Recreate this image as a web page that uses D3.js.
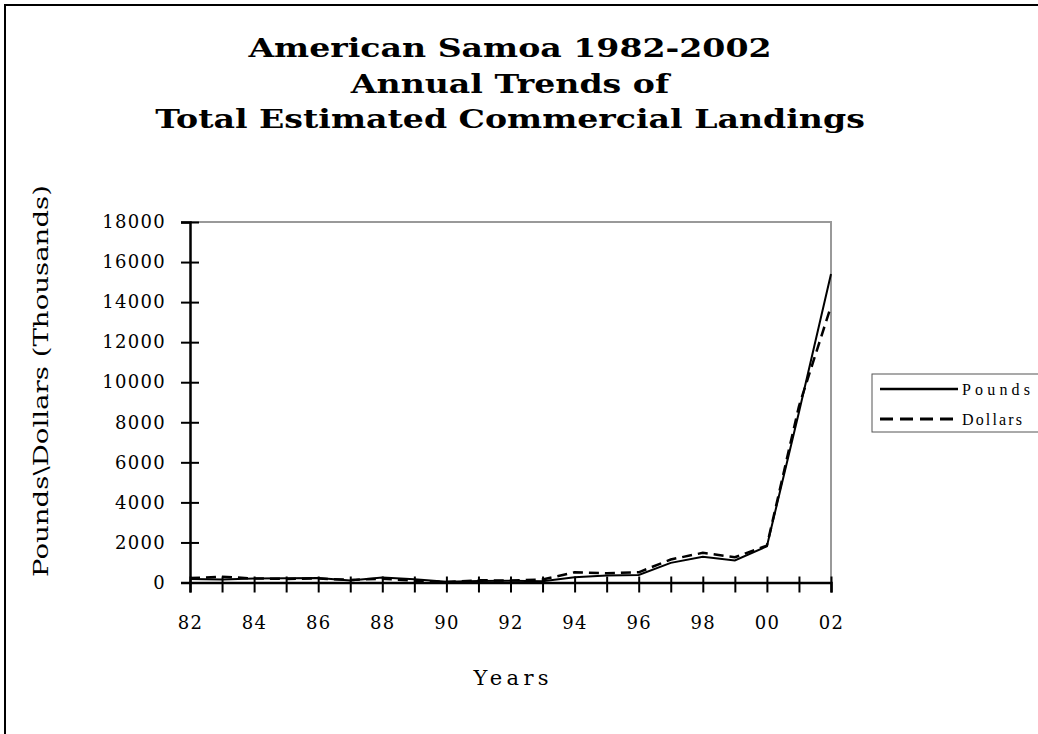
<!DOCTYPE html>
<html>
<head>
<meta charset="utf-8">
<script src="https://cdn.jsdelivr.net/npm/d3@7"></script>
<style>
	body { margin: 0; background: #fff; }
	svg { display: block; }
</style>
</head>
<body>
<div id="main_node"></div>
<script>
var years = [1982, 1983, 1984, 1985, 1986, 1987, 1988, 1989, 1990, 1991, 1992,
	1993, 1994, 1995, 1996, 1997, 1998, 1999, 2000, 2001, 2002];
// thousands of pounds
var pounds = [180, 150, 200, 210, 230, 100, 250, 160, 40, 80, 90,
	60, 260, 350, 380, 980, 1280, 1100, 1810, 8500, 15400];
// thousands of dollars
var dollars = [220, 290, 200, 180, 200, 130, 190, 90, 30, 110, 100,
	150, 510, 460, 510, 1150, 1480, 1260, 1840, 8800, 13800];
var yTicks = [0, 2000, 4000, 6000, 8000, 10000, 12000, 14000, 16000, 18000];
var titleLines = ["American Samoa 1982-2002", "Annual Trends of", "Total Estimated Commercial Landings"];
var seriesNames = ["Pounds", "Dollars"];

var width = 1038,
	height = 734;
var serif = "'DejaVu Serif', serif";

var svg = d3.select("#main_node")
	.append("svg")
	.attr("width", width)
	.attr("height", height);

// outer frame (right and bottom edges run off the page)
svg.append("rect")
	.attr("x", 5)
	.attr("y", 5)
	.attr("width", 1060)
	.attr("height", 760)
	.attr("fill", "none")
	.attr("stroke", "#000")
	.attr("stroke-width", 2);

// title - the original face is wider than DejaVu, so stretch every line by the same ratio
var titleStretch = 1.275;
svg.append("g")
	.selectAll("text")
	.data(titleLines)
	.enter()
	.append("text")
	.attr("x", 510)
	.attr("y", function (d, i) {
		return 57 + i * 35.5;
	})
	.attr("text-anchor", "middle")
	.style("font-family", serif)
	.style("font-weight", "bold")
	.style("font-size", "26px")
	.text(function (d) {
		return d;
	})
	.each(function () {
		var t = d3.select(this);
		t.attr("textLength", this.getComputedTextLength() * titleStretch)
			.attr("lengthAdjust", "spacingAndGlyphs");
	});

var x = d3.scaleLinear().domain([1982, 2002]).range([190, 831]);
var y = d3.scaleLinear().domain([0, 18000]).range([582.5, 222]);

// plot area border (top and right)
svg.append("path")
	.attr("d", "M" + x(1982) + "," + y(18000) + "H" + x(2002) + "V" + y(0))
	.attr("fill", "none")
	.attr("stroke", "#999")
	.attr("stroke-width", 2);

// y axis
var yAxis = svg.append("g")
	.attr("transform", "translate(" + x(1982) + ",0)")
	.call(d3.axisLeft(y).tickValues(yTicks).tickSize(9).tickPadding(15).tickFormat(d3.format("d")));
yAxis.select(".domain").attr("stroke-width", 2.5);
yAxis.selectAll(".tick line").attr("x1", 9).attr("stroke-width", 2);
yAxis.selectAll(".tick text")
	.style("font-family", serif)
	.style("font-size", "18px")
	.style("letter-spacing", "1.3px")
	.attr("fill", "#000");

// x axis, a tick every year and a label every other year
var xAxis = svg.append("g")
	.attr("transform", "translate(0," + y(0) + ")")
	.call(d3.axisBottom(x).tickValues(years).tickSize(10).tickPadding(24)
		.tickFormat(function (d) {
			return (d - 1982) % 2 === 0 ? d3.format("02d")(d % 100) : "";
		}));
xAxis.select(".domain").attr("stroke-width", 2.5);
xAxis.selectAll(".tick line").attr("y1", -6).attr("stroke-width", 2);
xAxis.selectAll(".tick text")
	.style("font-family", serif)
	.style("font-size", "18px")
	.style("letter-spacing", "1.3px")
	.attr("fill", "#000");

// axis titles
svg.append("text")
	.attr("x", 511)
	.attr("y", 685)
	.attr("text-anchor", "middle")
	.attr("textLength", 75)
	.attr("lengthAdjust", "spacing")
	.style("font-family", serif)
	.style("font-size", "21px")
	.text("Years");

svg.append("text")
	.attr("transform", "translate(48,381) rotate(-90)")
	.attr("text-anchor", "middle")
	.attr("textLength", 392)
	.attr("lengthAdjust", "spacingAndGlyphs")
	.style("font-family", serif)
	.style("font-size", "21px")
	.text("Pounds\\Dollars (Thousands)");

// series lines
var line = d3.line()
	.x(function (d) {
		return x(d.year);
	})
	.y(function (d) {
		return y(d.value);
	});

function toPoints(values) {
	return years.map(function (yr, i) {
		return { year: yr, value: values[i] };
	});
}

var dashes = [null, "10,6"];
var widths = [2, 2.5];

svg.append("g")
	.selectAll("path")
	.data([pounds, dollars])
	.enter()
	.append("path")
	.attr("d", function (d) {
		return line(toPoints(d));
	})
	.attr("fill", "none")
	.attr("stroke", "#000")
	.attr("stroke-width", function (d, i) {
		return widths[i];
	})
	.attr("stroke-dasharray", function (d, i) {
		return dashes[i];
	});

// legend
var legend = svg.append("g").attr("transform", "translate(872,374)");
legend.append("rect")
	.attr("width", 170)
	.attr("height", 58)
	.attr("fill", "#fff")
	.attr("stroke", "#555")
	.attr("stroke-width", 1);

var legendDashes = [null, "13,7"];
var legendText = [68, 60];
var items = legend.selectAll("g.item")
	.data(seriesNames)
	.enter()
	.append("g")
	.attr("class", "item")
	.attr("transform", function (d, i) {
		return "translate(0," + (15 + i * 30) + ")";
	});
items.append("line")
	.attr("x1", 8)
	.attr("x2", 86)
	.attr("stroke", "#000")
	.attr("stroke-width", function (d, i) {
		return widths[i] + 0.5;
	})
	.attr("stroke-dasharray", function (d, i) {
		return legendDashes[i];
	});
items.append("text")
	.attr("x", 90)
	.attr("dy", "0.35em")
	.attr("textLength", function (d, i) {
		return legendText[i];
	})
	.attr("lengthAdjust", "spacing")
	.style("font-family", "'Liberation Serif', serif")
	.style("font-size", "16px")
	.text(function (d) {
		return d;
	});
</script>
</body>
</html>
